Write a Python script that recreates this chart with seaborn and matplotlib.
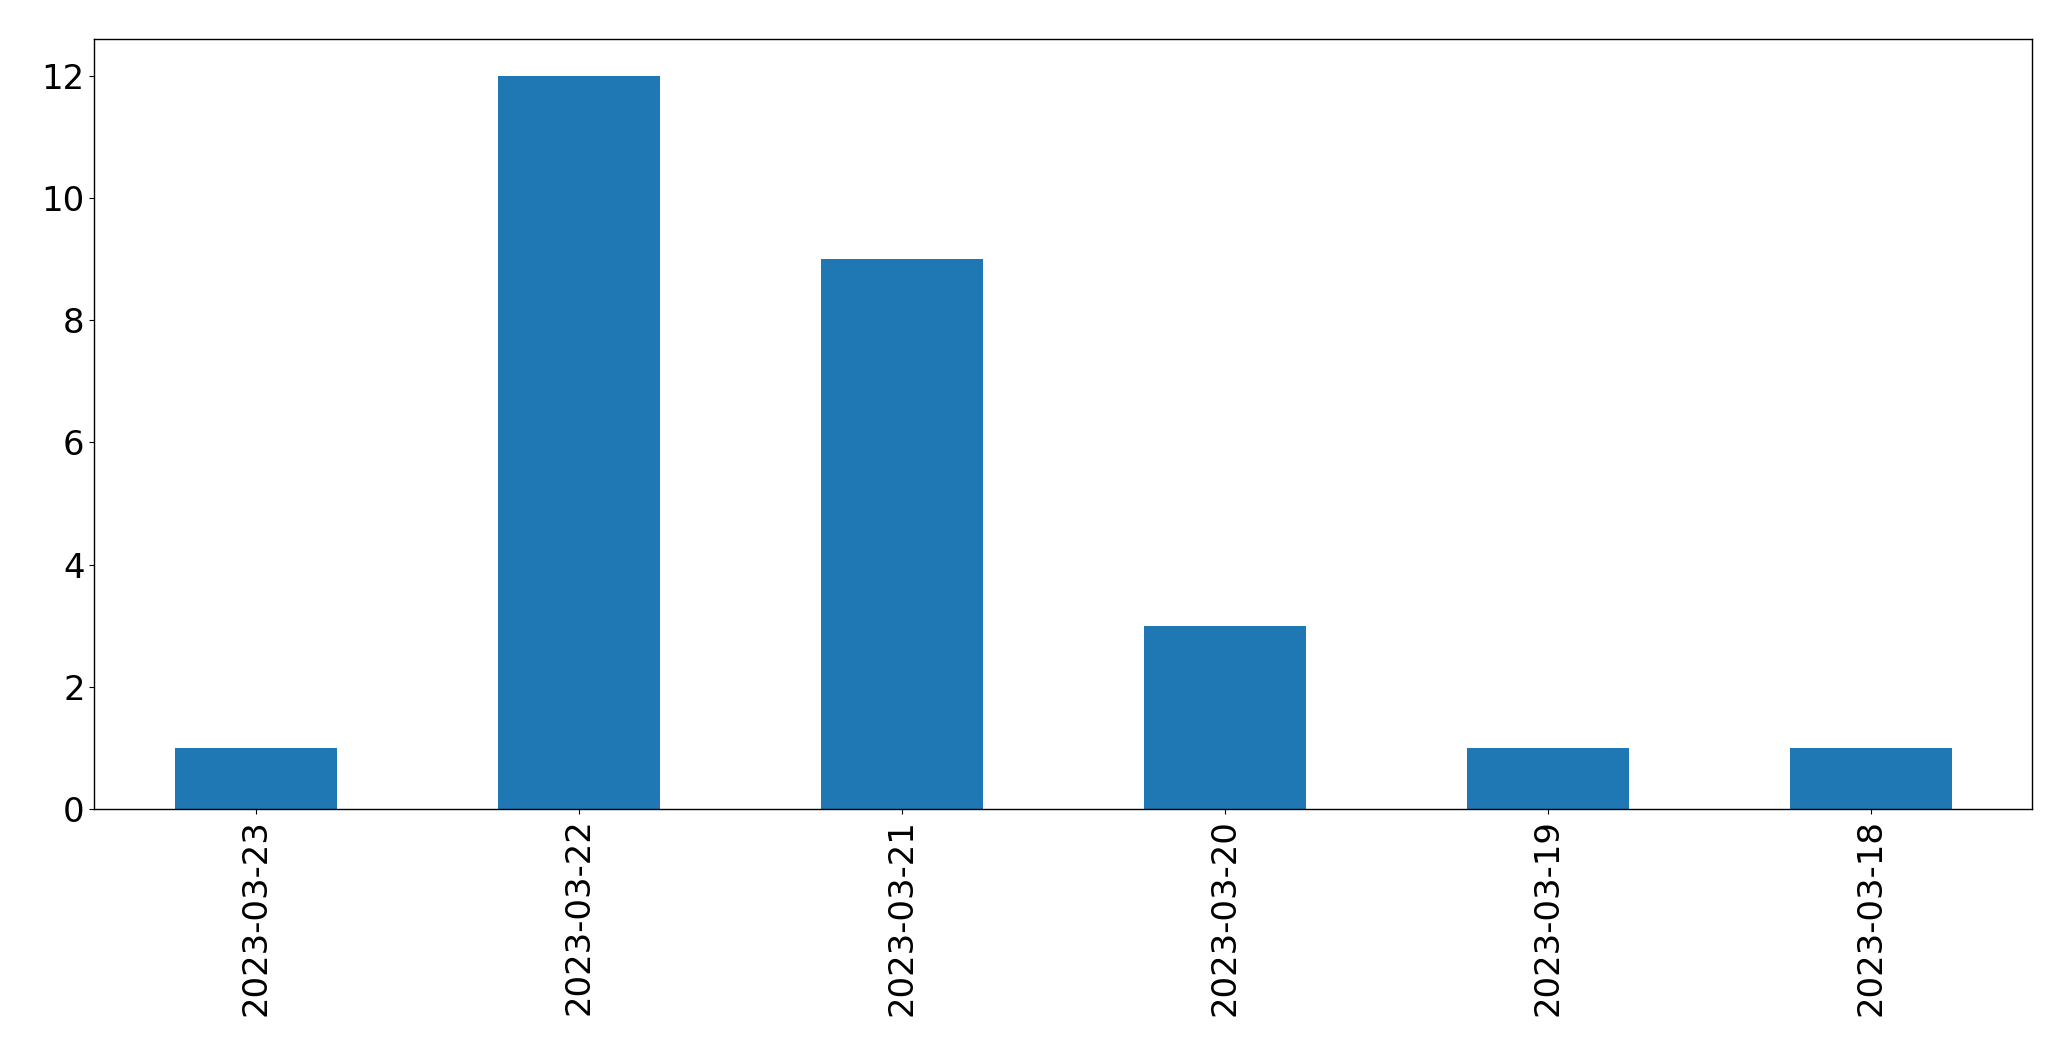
import matplotlib
matplotlib.use("Agg")
import matplotlib.pyplot as plt
import seaborn as sns
import pandas as pd

dates = ["2023-03-23", "2023-03-22", "2023-03-21", "2023-03-20", "2023-03-19", "2023-03-18"]
counts = [1, 12, 9, 3, 1, 1]

df = pd.DataFrame({"date": dates, "count": counts})

plt.rcParams["font.family"] = ["DejaVu Sans"]
fig = plt.figure(figsize=(20.71, 10.61), dpi=100)
ax = fig.add_axes([94.3 / 2071, 1 - 809 / 1061, (2032.3 - 94.3) / 2071, (809 - 39.3) / 1061])
sns.barplot(data=df, x="date", y="count", color="#1f77b4", saturation=1, width=0.5, ax=ax, order=dates)
ax.set_xlim(-0.5, 5.5)
ax.set_ylim(0, 12.6)
ax.set_xlabel("")
ax.set_ylabel("")
ax.tick_params(axis="both", labelsize=24.4)
plt.setp(ax.get_xticklabels(), rotation=90)
for s in ax.spines.values():
    s.set_linewidth(1.0)
    s.set_color("black")
fig.savefig("out.png", dpi=100)
